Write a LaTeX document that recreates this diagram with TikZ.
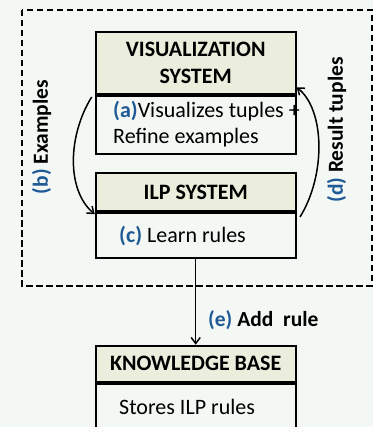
\documentclass[tikz,border=0pt]{standalone}
\usepackage{fontspec}
\setmainfont{Carlito}
\usetikzlibrary{arrows.meta}
\definecolor{bg}{HTML}{F4F8F4}
\definecolor{hdrfill}{HTML}{EBEEDC}
\definecolor{lblue}{HTML}{1F5A96}
\begin{document}
\begin{tikzpicture}[x=1pt,y=-1pt,
  box/.style={draw, line width=1.9pt, minimum width=200pt, inner sep=0pt},
  hdr/.style={box, fill=hdrfill, font=\bfseries\fontsize{22}{26.7}\selectfont, align=center},
  bdy/.style={box, fill=bg},
  txt/.style={font=\fontsize{22}{25.5}\selectfont, inner sep=0pt, anchor=west, align=left},
  lbl/.style={font=\bfseries\fontsize{21.5}{26}\selectfont, inner sep=0pt},
  conn/.style={line width=1.5pt, -{Straight Barb[length=6pt,width=9pt,line width=1.5pt]}}]
\clip (0,0) rectangle (373,427);
\fill[bg] (0,0) rectangle (373,427);
% dashed frame
\draw[line width=1.7pt, dash pattern=on 6.5pt off 3.5pt] (21.7,10) rectangle (371.7,285.7);
% visualization system
\node[hdr, minimum height=62.6pt] (vish) at (195.7,63) {VISUALIZATION\\SYSTEM};
\node[bdy, minimum height=57.7pt, anchor=north] (visb) at (vish.south) {};
\node[txt] (vist) at (113,124) {\textbf{\textcolor{lblue}{(a)}}Visualizes tuples +\\Refine examples};
% ILP system
\node[hdr, minimum height=38pt] (ilph) at (195.7,192.3) {ILP SYSTEM};
\node[bdy, minimum height=44.7pt, anchor=north] (ilpb) at (ilph.south) {};
\node[txt] (ilpt) at (119,236.5) {\textbf{\textcolor{lblue}{(c)}} Learn rules};
% knowledge base
\node[hdr, minimum height=36pt] (kbh) at (195.7,363.7) {KNOWLEDGE BASE};
\node[bdy, minimum height=70pt, anchor=north] (kbb) at (kbh.south) {};
\node[txt] (kbt) at (119,407) {Stores ILP rules};
% connectors
\coordinate (bstart) at (91.7,97);
\coordinate (dstart) at (300,217);
\draw[conn] (bstart) .. controls (68,135) and (66,190) .. ([yshift=-2pt]ilph.south west);
\draw[conn] (dstart) .. controls (326,175) and (325,110) .. ([yshift=8pt]vish.south east);
\draw[conn] (ilpb.south) -- (kbh.north);
% labels
\node[lbl, rotate=90] (lb) at (41.7,137) {\textcolor{lblue}{(b)} Examples};
\node[lbl, rotate=90] (ld) at (336.7,130) {\textcolor{lblue}{(d)} Result tuples};
\node[lbl, anchor=west] (le) at (208,320) {\textcolor{lblue}{(e)} Add\ \ rule};
\end{tikzpicture}
\end{document}
